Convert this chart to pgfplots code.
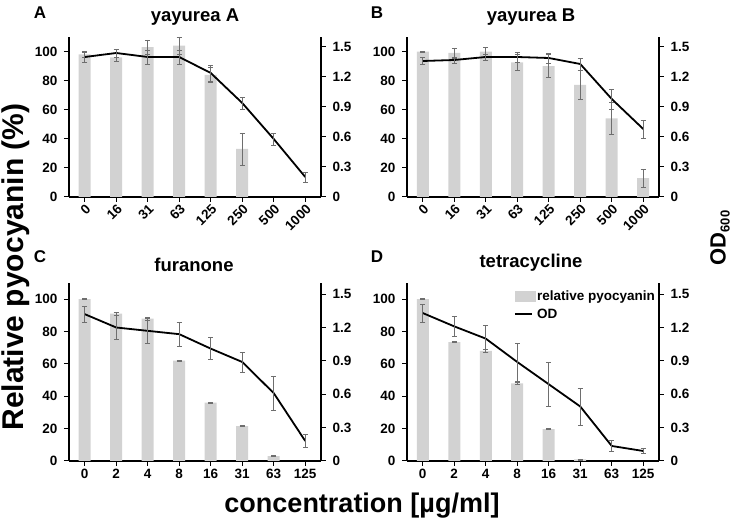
\documentclass[border=0pt]{standalone}
\usepackage{pgfplots}
\pgfplotsset{compat=1.18}
\usepackage{pgfplotstable}
\usepackage{fontspec}
\setmainfont{Liberation Sans}

\definecolor{barcol}{RGB}{210,210,210}
\definecolor{errcol}{RGB}{110,110,110}

\pgfplotstableread{
x pyo pyoe od ode
0 98 2 1.40 0.05
1 96 3 1.44 0.04
2 103 5 1.40 0.07
3 104 6 1.40 0.07
4 84 5 1.24 0.08
5 33 11 0.94 0.06
6 nan 0 0.58 0.06
7 nan 0 0.20 0.05
}\dataA
\pgfplotstableread{
x pyo pyoe od ode
0 100 0.3 1.36 0.035
1 99 3.5 1.37 0.03
2 100 3 1.40 0.03
3 92.5 5.5 1.40 0.05
4 90 8 1.39 0.05
5 77 10 1.33 0.06
6 54 11 0.98 0.10
7 13 6 0.68 0.09
}\dataB
\pgfplotstableread{
x pyo pyoe od ode
0 100 0.3 1.32 0.07
1 91 1 1.20 0.11
2 88 1 1.17 0.11
3 62 0.3 1.14 0.11
4 36 0.3 1.01 0.10
5 21.5 0.3 0.89 0.09
6 3 0.3 0.61 0.15
7 nan 0 0.18 0.06
}\dataC
\pgfplotstableread{
x pyo pyoe od ode
0 100 0.3 1.33 0.08
1 73.5 0.3 1.21 0.09
2 68 1 1.10 0.12
3 48 0.5 0.89 0.17
4 19.7 0.3 0.69 0.20
5 1 0.3 0.49 0.165
6 nan 0 0.135 0.05
7 nan 0 0.09 0.025
}\dataD

\newcommand{\tickfont}{\bfseries\fontsize{13.5}{14}\selectfont}

\pgfplotsset{
  panel/.style={
    scale only axis, width=252pt, anchor=south west,
    xmin=-0.5, xmax=7.5, xtick={0,...,7},
    tick align=outside, major tick length=5pt,
    axis line style={line width=1.2pt},
    every tick/.style={black, line width=1pt},
    ticklabel style={font=\tickfont},
    /pgf/number format/assume math mode=true,
    clip=false,
  },
  barax/.style={
    panel, ybar, bar width=12pt, ymin=0, ymax=110,
    ytick={0,20,40,60,80,100}, yticklabels={0,20,40,60,80,100},
    axis y line*=left, axis x line*=bottom,
    unbounded coords=discard,
    yticklabel style={xshift=-3pt},
  },
  odax/.style={
    panel, ymin=0, ymax=1.6,
    ytick={0,0.3,0.6,0.9,1.2,1.5}, yticklabels={0,0.3,0.6,0.9,1.2,1.5},
    axis y line*=right, axis x line=none,
    yticklabel style={xshift=3pt},
  },
  barplot/.style={fill=barcol, draw=none,
    error bars/.cd, y dir=both, y explicit,
    error bar style={errcol, line width=0.6pt},
    error mark options={errcol, rotate=90, mark size=2.5pt, line width=0.6pt}},
  odplot/.style={black, line width=1.8pt, mark=none,
    error bars/.cd, y dir=both, y explicit,
    error bar style={errcol, line width=0.6pt},
    error mark options={errcol, rotate=90, mark size=2.5pt, line width=0.6pt}},
  rotlab/.style={xticklabels={0,16,31,63,125,250,500,1000},
    xticklabel style={rotate=45, anchor=north east, inner sep=1pt}},
  flatlab/.style={xticklabels={0,2,4,8,16,31,63,125}},
}

\begin{document}
\begin{tikzpicture}
\path[use as bounding box] (0,0) rectangle (737pt,530pt);

% Panel A
\begin{axis}[barax, rotlab, at={(69pt,333pt)}, height=160pt]
\addplot[barplot] table[x=x, y=pyo, y error=pyoe]{\dataA};
\end{axis}
\begin{axis}[odax, at={(69pt,333pt)}, height=160pt]
\addplot[odplot] table[x=x, y=od, y error=ode]{\dataA};
\end{axis}

% Panel B
\begin{axis}[barax, rotlab, at={(407pt,333pt)}, height=160pt]
\addplot[barplot] table[x=x, y=pyo, y error=pyoe]{\dataB};
\end{axis}
\begin{axis}[odax, at={(407pt,333pt)}, height=160pt]
\addplot[odplot] table[x=x, y=od, y error=ode]{\dataB};
\end{axis}

% Panel C
\begin{axis}[barax, flatlab, at={(69pt,69pt)}, height=178pt]
\addplot[barplot] table[x=x, y=pyo, y error=pyoe]{\dataC};
\end{axis}
\begin{axis}[odax, at={(69pt,69pt)}, height=178pt]
\addplot[odplot] table[x=x, y=od, y error=ode]{\dataC};
\end{axis}

% Panel D
\begin{axis}[barax, flatlab, at={(407pt,69pt)}, height=178pt]
\addplot[barplot] table[x=x, y=pyo, y error=pyoe]{\dataD};
\end{axis}
\begin{axis}[odax, at={(407pt,69pt)}, height=178pt,
  legend style={at={(0.42,0.975)}, anchor=north west, draw=none, fill=none,
    font=\tickfont, inner sep=1pt, row sep=3pt},
  legend cell align=left]
\addlegendimage{legend image code/.code={\fill[barcol] (0pt,-5pt) rectangle (20pt,5pt);}}
\addlegendentry{relative pyocyanin}
\addplot[odplot] table[x=x, y=od, y error=ode]{\dataD};
\addlegendentry{OD}
\end{axis}

% titles and letters
\node[font=\bfseries\fontsize{18.5}{19}\selectfont] at (195pt,513pt) {yayurea A};
\node[font=\bfseries\fontsize{18.5}{19}\selectfont] at (531pt,513pt) {yayurea B};
\node[font=\bfseries\fontsize{18.5}{19}\selectfont] at (194pt,265pt) {furanone};
\node[font=\bfseries\fontsize{18.5}{19}\selectfont] at (531pt,267pt) {tetracycline};
\node[font=\bfseries\fontsize{17}{17}\selectfont] at (40pt,517pt) {A};
\node[font=\bfseries\fontsize{17}{17}\selectfont] at (377pt,517pt) {B};
\node[font=\bfseries\fontsize{17}{17}\selectfont] at (40pt,273pt) {C};
\node[font=\bfseries\fontsize{17}{17}\selectfont] at (377pt,273pt) {D};

\node[rotate=90, font=\bfseries\fontsize{30}{30}\selectfont] at (16pt,263pt) {Relative pyocyanin (\%)};
\node[font=\bfseries\fontsize{27}{27}\selectfont] at (362pt,24pt) {concentration [µg/ml]};
\node[rotate=90, font=\bfseries\fontsize{22}{22}\selectfont] at (720pt,292pt) {OD{\fontsize{13}{13}\selectfont\raisebox{-4pt}{600}}};
\end{tikzpicture}
\end{document}
